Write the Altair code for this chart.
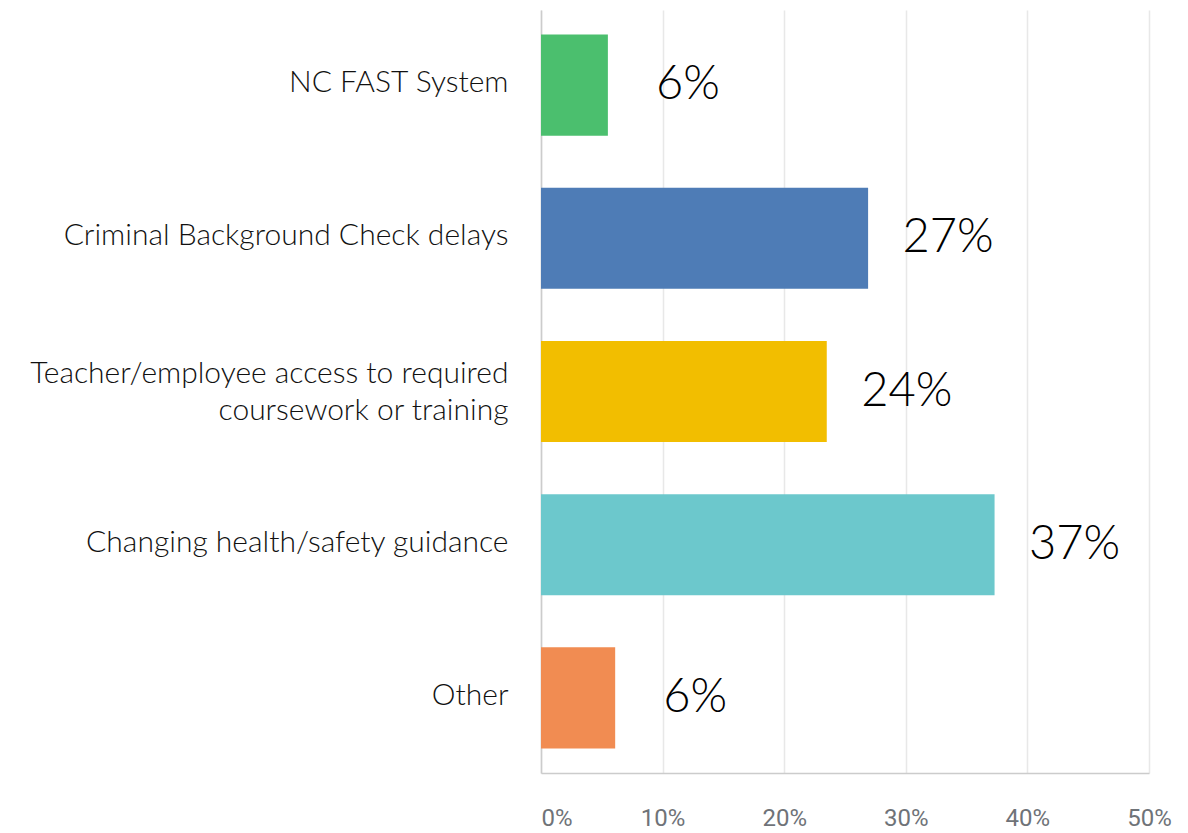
import altair as alt
import pandas as pd

categories = [
    "NC FAST System",
    "Criminal Background Check delays",
    "Teacher/employee access to required|coursework or training",
    "Changing health/safety guidance",
    "Other",
]
values = [5.5, 26.9, 23.5, 37.3, 6.1]
labels = ["6%", "27%", "24%", "37%", "6%"]
colors = ["#4BBF6E", "#4E7CB6", "#F2BE00", "#6CC8CC", "#F18C52"]
x_ticks = [0, 10, 20, 30, 40, 50]

df = pd.DataFrame({"category": categories, "value": values, "label": labels, "color": colors})

y = alt.Y(
    "category:N",
    sort=categories,
    title=None,
    scale=alt.Scale(paddingInner=0.34, paddingOuter=0.16),
    axis=alt.Axis(
        labelExpr="split(datum.label, '|')",
        labelFont="Lato",
        labelFontSize=30,
        labelFontWeight=300,
        labelColor="#111111",
        labelPadding=33,
        labelOffset={"condition": {"test": "indexof(datum.label, '|') >= 0", "value": -18}, "value": -2},
        ticks=False,
        domain=True,
        domainColor="#cccccc",
        domainWidth=1.5,
        minExtent=533,
        maxExtent=533,
        labelLimit=600,
        labelLineHeight=37,
        grid=False,
    ),
)
x = alt.X(
    "value:Q",
    scale=alt.Scale(domain=[0, 50]),
    title=None,
    axis=alt.Axis(
        values=x_ticks,
        labelExpr="datum.value + '%'",
        grid=True,
        gridColor="#e8e8e8",
        gridWidth=1.5,
        ticks=False,
        domainColor="#cccccc",
        domainWidth=1.5,
        labelPadding=33,
        labelFontSize=24,
        labelColor="#6f7378",
        labelFont="Roboto",
        labelFlush=False,
        labelAlign={"condition": {"test": "datum.value == 0", "value": "left"}, "value": "center"},
    ),
)

bars = alt.Chart(df).mark_bar().encode(x=x, y=y, color=alt.Color("color:N", scale=None))
text = alt.Chart(df).mark_text(
    align="center", baseline="middle", dx=80, fontSize=47, font="Lato", fontWeight=300, color="#000000"
).encode(x="value:Q", y=alt.Y("category:N", sort=categories), text="label:N")

chart = (
    (bars + text)
    .properties(width=608, height=763, padding={"left": 0, "top": 2, "right": 0, "bottom": 0})
    .configure_view(stroke=None)
)
chart.save("out.html", embed_options={"renderer": "svg", "actions": False})
